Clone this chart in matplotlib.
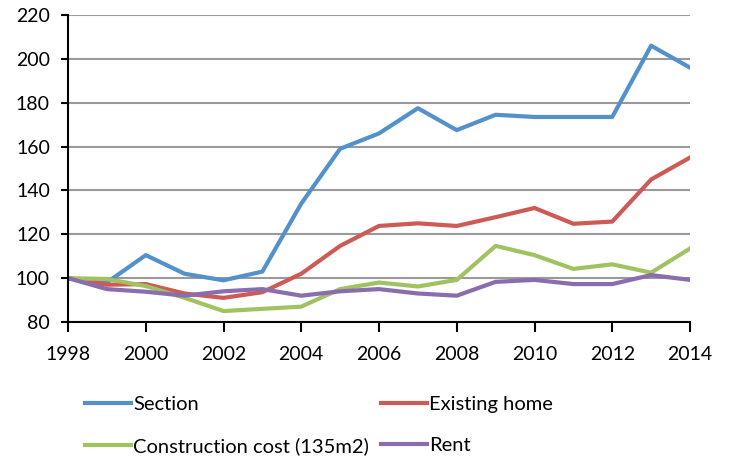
import matplotlib.pyplot as plt


plt.rcParams['font.family'] = ['Lato', 'DejaVu Sans']
plt.rcParams['font.size'] = 14

years = list(range(1998, 2015))
section = [100, 98, 110.5, 102, 99, 103, 134, 159, 166, 177.5, 167.5, 174.5, 173.5, 173.5, 173.5, 206, 196]
existing_home = [100, 97, 97.3, 93, 91, 93.6, 102, 114.7, 123.8, 125, 123.8, 127.8, 132, 124.8, 125.8, 145, 155]
construction = [100, 99.6, 96.4, 91, 85, 86, 87, 95, 98, 96.2, 99.2, 114.7, 110.5, 104.2, 106.3, 102.5, 113.5]
rent = [100, 95, 93.8, 92, 94, 95, 92, 94, 95, 93, 92, 98.3, 99.2, 97.3, 97.3, 101.4, 99.2]

series = [
    ('Section', section, '#5491CB'),
    ('Existing home', existing_home, '#CD5A55'),
    ('Construction cost (135m2)', construction, '#A2C262'),
    ('Rent', rent, '#8A6DAE'),
]


def main():
    fig = plt.figure(figsize=(7.29, 4.59), dpi=100)
    ax = fig.add_axes([68 / 729, 1 - 322 / 459, 622 / 729, 307 / 459])

    lines = {}
    for name, vals, color in series:
        lines[name], = ax.plot(years, vals, color=color, lw=3, label=name)

    ax.set_xlim(1998, 2014)
    ax.set_ylim(80, 220)
    ax.set_xticks(range(1998, 2015, 2))
    ax.set_yticks(range(80, 221, 20))
    ax.yaxis.grid(True, color='#9a9a9a', lw=1.5)
    ax.set_axisbelow(True)
    for s in ('top', 'right'):
        ax.spines[s].set_visible(False)
    for s in ('left', 'bottom'):
        ax.spines[s].set_linewidth(1.5)
    ax.tick_params(axis='y', length=5, width=1.5, pad=8)
    ax.tick_params(axis='x', length=7, width=1.5, pad=10)

    # column-major fill -> reorder so rows read Section / Existing home, Construction / Rent
    order = ['Section', 'Construction cost (135m2)', 'Existing home', 'Rent']
    fig.legend([lines[n] for n in order], order, ncol=2, frameon=False,
               loc='upper left', bbox_to_anchor=(0.105, 0.155),
               handlelength=2.3, handletextpad=0.1, columnspacing=0.6,
               labelspacing=1.2, fontsize=14.5, borderaxespad=0)

    fig.savefig('out.png', dpi=100)


main()
